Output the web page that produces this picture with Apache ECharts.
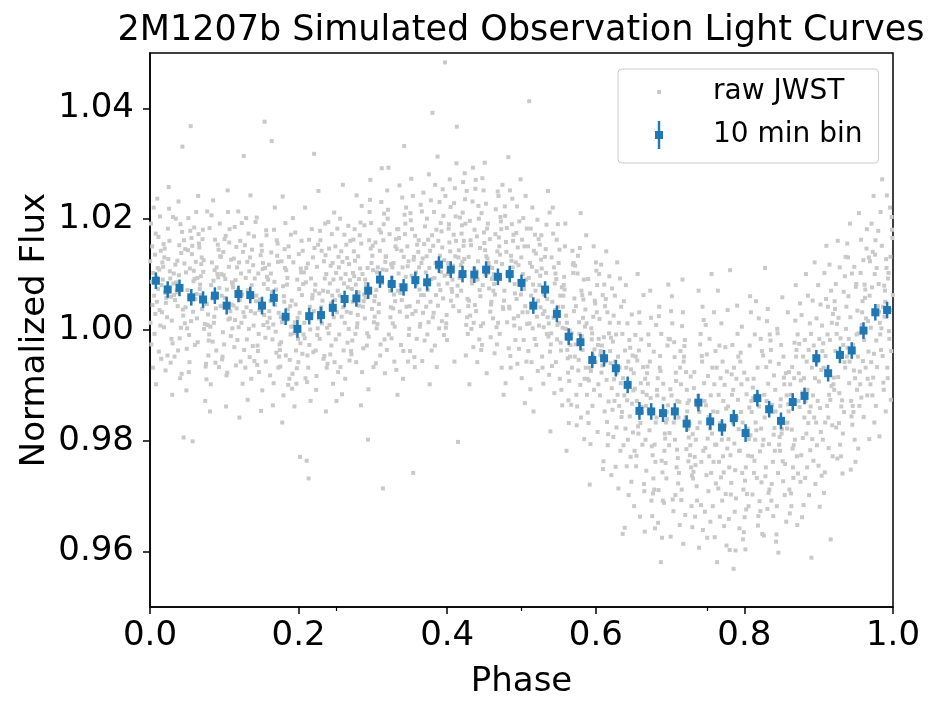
<!DOCTYPE html>
<html>
<head>
<meta charset="utf-8">
<title>2M1207b light curves</title>
<script src="https://cdn.jsdelivr.net/npm/echarts@6/dist/echarts.min.js"></script>
<style>
  html, body { margin: 0; padding: 0; background: #fff; }
  #main { width: 941px; height: 715px; }
</style>
</head>
<body>
<div id="main"></div>
<script>
// 10 min binned flux (blue points)
var binFlux = [
  1.0089, 1.0073, 1.0076, 1.0059, 1.0055, 1.0062, 1.0044, 1.0065, 1.0063, 1.0044,
  1.0058, 1.0024, 1.0002, 1.0025, 1.0027, 1.0040, 1.0056, 1.0057, 1.0071, 1.0091,
  1.0083, 1.0077, 1.0090, 1.0086, 1.0118, 1.0109, 1.0101, 1.0100, 1.0109, 1.0096,
  1.0101, 1.0085, 1.0044, 1.0073, 1.0029, 0.9988, 0.9978, 0.9946, 0.9949, 0.9931,
  0.9901, 0.9854, 0.9853, 0.9850, 0.9853, 0.9831, 0.9869, 0.9835, 0.9824, 0.9841,
  0.9814, 0.9877, 0.9857, 0.9836, 0.9870, 0.9881, 0.9949, 0.9922, 0.9955, 0.9963,
  0.9999, 1.0032, 1.0036
];
var binErr = [
  0.0015, 0.0015, 0.0015, 0.0015, 0.0015, 0.0015, 0.0016, 0.0015, 0.0015, 0.0016,
  0.0015, 0.0015, 0.0016, 0.0015, 0.0015, 0.0015, 0.0015, 0.0015, 0.0015, 0.0015,
  0.0015, 0.0015, 0.0015, 0.0015, 0.0015, 0.0015, 0.0015, 0.0015, 0.0015, 0.0015,
  0.0015, 0.0015, 0.0015, 0.0015, 0.0015, 0.0015, 0.0015, 0.0015, 0.0015, 0.0015,
  0.0015, 0.0016, 0.0015, 0.0016, 0.0015, 0.0015, 0.0016, 0.0015, 0.0015, 0.0015,
  0.0016, 0.0015, 0.0015, 0.0015, 0.0016, 0.0015, 0.0015, 0.0015, 0.0015, 0.0015,
  0.0015, 0.0015, 0.0015
];

// raw JWST flux as offset from 1 in parts per thousand, 30 samples per bin
var rawPpt = [
  12.4,1.3,19.2,-2.6,8.7,15.1,4.5,-6.8,10.3,22.1,6.2,-0.7,13.6,2.9,17.4,-9.8,9.5,5.1,23.7,11.2,7.4,16.8,-3.9,10.9,3.6,20.5,0.8,14.3,-5.2,8.1,
  3.2,14.7,-4.6,9.3,20.4,0.5,7.8,16.1,-11.7,11.4,4.9,25.8,-1.6,12.2,6.7,18.3,-5.9,8.4,13.1,2.3,10.6,-2.4,15.5,5.8,21.9,1.7,9.1,-7.3,12.8,6.0,
  10.2,-3.7,33.1,5.4,15.3,-19.4,8.6,19.1,1.2,12.5,-7.9,6.3,23.2,3.7,11.8,-1.5,16.2,7.1,0.4,14.6,4.3,17.7,-4.8,9.9,2.6,20.1,-8.7,12.0,6.8,13.9,
  4.1,36.8,12.3,-0.9,18.5,7.2,-20.1,10.4,1.6,21.3,-5.8,9.2,14.4,3.3,-10.9,16.6,6.5,11.1,-2.7,20.2,8.8,-3.4,13.7,2.1,17.9,5.6,-7.6,10.7,0.3,15.2,
  9.4,0.2,15.6,-6.6,6.3,21.4,3.8,-1.9,12.6,17.3,-12.8,8.2,4.7,13.1,-4.6,10.5,24.2,1.1,7.4,-8.9,11.9,2.8,18.1,-2.2,5.3,14.9,-6.1,9.7,0.9,16.4,
  -0.8,11.3,5.7,19.2,-5.9,8.1,14.5,2.4,-14.7,10.1,23.4,4.3,-3.7,12.2,7.6,16.3,-9.8,9.5,1.3,18.4,6.4,-2.1,13.3,3.9,20.7,-6.7,10.8,0.6,15.4,8.9,
  13.2,2.1,-7.7,16.4,6.2,-1.1,21.3,9.2,-4.8,4.6,11.4,-13.8,14.1,0.3,18.2,7.3,-2.6,10.1,3.4,25.2,5.8,-5.3,12.7,1.9,17.0,-0.4,8.6,15.8,-8.2,9.9,
  8.3,-3.6,31.4,3.2,14.1,-9.7,6.4,19.3,1.3,10.2,-5.7,16.1,5.4,-15.8,12.2,0.5,21.4,7.2,-1.8,11.3,3.9,15.0,-6.4,9.0,1.8,18.6,-3.1,12.9,4.4,7.7,
  2.4,15.3,-6.8,9.4,20.2,4.1,-1.7,12.3,-12.6,7.2,17.4,0.2,10.6,-4.9,13.1,24.3,3.4,-8.8,8.1,14.5,6.1,-2.9,11.7,0.8,16.9,-5.6,9.3,3.0,19.5,5.2,
  6.2,-7.6,14.3,37.6,1.4,10.2,-14.6,8.3,17.1,-2.8,4.4,12.1,-5.7,20.3,3.6,-10.9,11.2,7.4,-0.7,15.3,2.7,9.6,-3.8,13.5,0.9,18.0,-6.3,5.5,11.0,-1.4,
  9.1,-1.7,16.2,3.4,-9.6,12.3,5.2,22.1,-4.8,34.1,7.3,0.4,-13.6,13.4,2.2,18.1,-6.8,10.2,4.5,-2.6,6.9,-4.1,11.8,1.0,15.6,-8.2,8.7,3.1,14.0,-0.3,
  -3.6,11.2,4.3,-11.8,15.1,1.4,8.2,-6.6,19.3,-0.8,6.1,13.2,-16.7,9.4,2.3,-4.6,17.2,5.1,-8.8,24.1,3.7,-2.2,10.8,0.6,14.6,-5.4,7.9,-9.9,12.4,1.8,
  5.3,-5.8,12.2,-22.9,1.4,16.1,-9.7,8.3,-1.6,20.2,3.1,-13.8,10.4,-3.7,14.3,2.2,-7.9,7.4,-0.6,11.1,4.6,-4.3,9.1,-10.6,13.7,0.7,-2.4,17.6,6.3,-6.9,
  -0.8,9.3,-23.6,31.8,4.2,-8.7,13.1,-26.8,1.3,18.2,-4.6,7.1,-12.8,11.2,3.4,-2.7,22.1,6.3,-6.8,10.4,2.9,-9.4,14.8,0.1,8.6,-4.0,16.3,-1.5,5.7,12.0,
  8.2,-4.7,14.3,2.1,-10.8,19.2,5.3,-1.6,11.4,-14.7,7.1,16.2,0.3,-6.8,12.4,4.1,25.1,-3.7,9.3,1.2,6.6,-8.3,13.5,2.8,17.9,-0.9,10.1,-5.2,3.7,15.4,
  0.4,13.2,-7.6,7.1,18.3,3.2,-12.8,10.3,-1.7,15.1,5.4,-5.8,21.2,2.3,9.1,-9.7,12.1,6.2,17.3,-2.8,4.8,11.6,-4.4,8.4,0.9,14.7,-0.6,19.5,6.9,-6.1,
  11.3,-0.8,6.2,20.1,-6.7,9.3,14.2,2.4,-11.6,12.3,26.2,4.1,-3.7,8.4,17.2,1.3,-8.8,10.1,5.2,15.4,3.3,13.0,-2.3,7.7,18.8,0.2,11.9,-5.5,9.0,16.1,
  3.1,16.3,-5.8,9.2,22.4,5.1,-0.7,13.3,-13.6,7.4,18.2,1.2,11.1,-3.8,14.2,24.3,4.4,-7.6,10.3,8.2,6.8,15.6,-1.9,12.5,2.7,19.4,-4.4,9.7,0.5,17.1,
  10.1,-2.8,19.3,5.2,-19.8,13.4,2.1,16.2,-6.7,8.3,27.1,4.2,-0.6,12.1,6.4,-10.7,15.2,9.1,21.3,1.4,7.6,14.7,-3.3,11.2,3.8,18.9,-1.2,10.8,5.9,23.5,
  5.2,18.1,-1.7,11.3,-28.6,7.2,23.1,2.4,14.3,-7.8,9.1,16.2,0.3,29.2,6.1,-4.6,12.3,3.2,19.1,10.4,8.5,15.8,-2.6,13.2,4.7,21.0,1.1,10.9,-6.0,17.6,
  13.3,1.2,20.1,-5.7,8.2,16.4,4.1,-11.7,11.3,25.2,6.4,-0.8,15.1,2.3,18.2,9.4,-3.6,12.1,29.3,5.2,7.1,14.6,-1.5,10.8,3.9,21.7,0.6,17.3,-7.2,11.9,
  7.1,19.2,-2.7,12.4,33.2,3.3,15.1,-8.8,10.2,22.1,5.4,0.2,17.3,8.1,-5.7,13.2,26.1,2.4,11.3,18.2,9.6,14.3,-0.9,20.8,6.7,11.5,-3.8,16.6,4.2,23.9,
  4.3,16.2,10.4,-25.8,21.1,7.3,-1.6,13.2,27.3,1.1,9.4,-6.7,18.2,6.3,14.1,3.4,24.2,-3.8,11.3,8.2,12.7,19.8,0.6,15.4,-4.9,9.8,22.6,5.1,17.0,2.9,
  12.1,2.3,39.2,17.1,-3.7,9.2,23.4,5.1,14.3,-9.8,11.2,28.1,1.4,16.3,7.2,-0.8,20.1,13.3,4.2,10.4,8.6,18.7,-1.9,15.5,6.3,24.8,3.1,12.9,-5.6,21.4,
  15.2,3.1,21.3,9.4,-2.8,26.2,12.1,6.3,18.1,-6.7,11.2,31.3,4.4,16.1,8.2,0.3,23.1,13.4,7.2,19.3,10.5,17.8,1.6,14.9,25.4,5.7,20.6,-0.9,12.6,9.8,
  48.3,10.1,22.2,4.3,16.1,-1.8,27.2,9.1,13.3,1.2,19.1,7.4,-5.7,24.2,12.1,5.3,17.2,30.1,8.4,14.2,11.6,20.5,2.7,15.8,6.9,25.6,0.4,18.3,10.8,22.9,
  36.7,7.1,19.2,-20.2,12.3,25.1,3.4,15.2,-0.7,10.1,28.3,6.2,17.4,-4.6,13.1,21.2,2.3,9.4,16.1,4.3,11.7,23.6,8.0,18.9,0.9,14.4,26.7,5.6,20.3,12.8,
  13.2,1.3,20.1,8.4,-5.8,16.2,27.1,5.3,11.1,-1.7,23.2,9.1,15.3,3.4,-9.8,18.1,7.2,29.3,12.4,0.2,10.6,19.7,4.5,14.8,-3.1,22.4,8.9,16.9,2.6,25.5,
  6.1,18.3,-2.7,12.1,25.2,3.3,14.4,9.2,-7.8,21.1,10.3,1.2,16.4,30.2,5.1,13.3,-3.6,19.2,8.1,11.4,15.7,4.6,22.8,0.7,12.9,27.4,7.5,17.6,-1.3,10.0,
  11.2,-0.7,17.3,4.1,24.2,8.3,-6.8,14.2,2.1,20.4,12.3,-11.7,15.1,6.4,26.2,1.3,10.1,18.2,-2.6,9.4,13.6,21.8,3.8,16.7,-4.2,11.9,25.0,7.1,19.6,0.5,
  5.3,16.1,-4.7,10.2,22.3,2.1,13.4,31.2,-9.6,8.3,19.1,4.2,14.1,-1.8,11.3,25.2,1.4,7.1,17.2,-6.8,9.7,20.6,0.8,12.5,-3.3,15.9,6.6,23.7,3.9,18.4,
  12.2,1.1,18.3,-5.7,9.1,24.2,4.3,-13.2,15.1,7.4,-1.8,20.2,10.1,3.2,16.3,-8.7,13.1,6.4,27.2,0.3,8.8,19.6,-3.4,11.7,2.5,14.9,-6.1,22.3,5.6,17.5,
  3.2,15.1,-3.8,9.4,41.3,1.2,12.1,-10.7,18.3,6.2,-5.8,11.4,22.1,0.3,8.2,-14.7,14.3,4.1,-1.6,17.2,7.1,13.8,-2.7,10.6,2.4,19.9,-7.4,5.3,16.4,0.8,
  8.1,-4.8,13.2,2.3,-18.3,17.1,6.4,-0.7,21.2,4.1,-9.7,10.3,1.2,15.4,-6.8,7.3,25.1,-2.6,11.1,3.4,5.6,-3.9,12.7,0.5,19.0,-8.1,9.8,2.9,14.6,-1.2,
  -0.6,10.2,-8.8,5.1,16.3,-3.7,2.2,19.1,-13.6,8.4,1.3,13.1,-5.8,6.2,22.1,-1.7,-10.8,11.3,4.2,0.4,3.6,14.5,-6.5,9.2,-2.3,17.4,0.9,7.7,-11.4,12.1,
  4.2,-7.7,10.3,-21.8,-0.6,15.1,-4.8,6.2,-12.7,12.1,1.3,-6.8,19.2,-2.7,8.1,-16.8,3.4,-3.6,14.3,0.2,-1.4,9.6,-9.2,5.7,-5.1,11.8,2.6,-13.5,7.3,-0.1,
  -4.8,7.1,-11.7,2.2,13.4,-8.8,-0.7,17.1,-15.8,4.3,-3.6,10.2,-19.7,1.4,-6.8,21.1,-2.6,6.3,-13.8,9.1,-5.4,3.7,-9.9,11.6,-1.1,-17.2,5.5,-7.3,0.6,14.8,
  1.2,-10.8,-27.9,8.1,-4.6,-16.8,12.2,-1.7,-8.8,5.3,-20.6,-2.7,15.1,-6.8,3.2,-13.7,9.2,-5.8,0.3,-11.7,-3.5,6.6,-18.4,2.4,-9.1,10.7,-0.6,-14.9,4.8,-7.4,
  -9.8,3.2,-14.7,-2.8,10.1,-18.8,-5.7,6.3,-11.8,-0.6,14.2,-23.7,-3.8,1.3,-16.6,8.2,-7.7,-1.6,-20.8,4.3,-6.4,2.0,-12.9,5.6,-25.1,-4.5,9.7,-9.0,-1.3,11.8,
  -3.8,-15.7,4.2,-9.6,-21.8,9.3,-6.8,-13.7,1.3,-28.6,-4.8,-11.7,12.2,-7.8,-17.6,-0.8,-24.7,-5.7,6.2,-12.8,-8.9,2.6,-19.3,-2.1,-14.4,7.5,-10.5,-26.2,-1.4,-6.0,
  -14.8,-0.7,-36.8,-8.7,-20.8,5.2,-11.8,-35.7,-3.7,-17.8,8.1,-6.8,-24.6,-12.7,1.2,-19.8,-5.7,-29.8,-9.7,-1.8,-15.6,-3.2,-22.9,-7.1,-27.4,2.8,-13.3,-4.6,-18.5,-10.9,
  -7.8,-22.7,3.2,-14.8,-36.4,-4.8,-18.7,-1.7,-27.8,-10.6,10.1,-16.8,-6.7,-31.8,-12.8,1.3,-20.7,-8.8,-24.6,-3.7,-13.9,-29.1,-0.9,-17.4,-9.6,6.3,-21.8,-5.5,-33.7,-11.2,
  -19.8,-5.7,-28.8,-11.7,2.2,-23.8,-9.7,-33.6,-15.8,-2.7,-26.8,-13.7,7.1,-20.7,-7.8,-30.8,-16.7,-0.8,-22.6,-10.8,-18.1,-3.9,-25.4,-12.3,-35.8,-6.6,-21.0,0.9,-14.6,-29.5,
  -11.8,-25.7,-2.8,-41.9,-16.7,4.2,-21.8,-8.7,-30.8,-13.6,-0.7,-26.8,-6.8,-18.7,-34.8,-9.7,8.2,-23.6,-14.8,-4.7,-19.6,-28.9,-12.4,-1.6,-37.5,-16.1,-7.4,-24.0,2.5,-31.2,
  -20.8,-7.7,-37.3,-12.8,1.2,-25.8,-16.7,-3.8,-29.8,-10.7,-21.6,6.1,-15.8,-32.7,-6.8,-19.8,-1.7,-24.8,-11.8,-27.7,-14.3,-35.2,-4.9,-18.6,-9.2,3.4,-23.1,-30.6,-13.0,-2.2,
  -9.8,-23.7,-4.8,-31.8,-14.7,3.2,-20.8,-7.6,-28.8,-12.7,-1.8,-35.6,-17.8,-5.7,-24.8,-10.8,9.1,-22.6,-15.8,-30.7,-19.4,-2.9,-26.3,-13.2,-38.6,-8.4,-21.5,0.7,-16.9,-33.4,
  -18.8,-4.7,-39.3,-12.8,-25.6,4.2,-16.7,-30.8,-7.6,-21.8,-0.7,-13.8,-33.7,-9.6,-23.8,7.1,-19.8,-26.8,-5.7,-14.8,-28.2,-10.5,-36.1,-2.6,-17.7,-22.9,1.8,-31.6,-11.9,-24.4,
  -12.8,-27.7,-3.8,-20.7,-37.4,-9.8,3.2,-23.8,-14.7,-31.8,-6.8,-18.7,10.1,-25.8,-11.8,-34.6,-17.8,-1.6,-22.8,-15.7,-29.1,-8.3,-19.6,-37.5,-4.4,-26.2,-13.6,0.9,-21.3,-32.8,
  -20.7,-6.8,-41.9,-14.8,7.1,-28.6,-11.7,-23.8,-2.8,-33.7,-16.8,-8.7,-26.6,1.2,-19.8,-30.8,-5.7,-22.8,-12.8,-25.7,-35.4,-9.9,-17.3,-3.1,-29.6,-14.2,-38.9,-7.5,-21.4,3.6,
  -13.8,-29.7,-43.1,-8.8,-21.8,10.8,-16.7,-39.8,-4.8,-24.8,-11.7,-32.8,-0.7,-19.7,-27.6,-6.8,-15.8,-35.8,-22.6,-10.8,-30.4,-17.9,-39.7,-2.7,-25.3,-12.6,-34.1,-8.0,-20.5,4.4,
  -21.8,-7.7,-31.8,-14.8,-39.6,-2.8,-25.8,-11.6,3.2,-28.8,-17.8,-5.7,-33.8,-19.7,-9.8,-24.8,6.1,-16.7,-29.6,-12.8,-36.5,-22.7,-4.1,-27.2,-14.0,0.6,-32.4,-19.0,-37.8,-8.9,
  -14.8,-26.7,-3.8,-19.8,-32.7,-8.8,2.1,-22.8,-11.7,-36.8,-16.7,-1.6,-25.8,-13.8,-29.7,-6.8,-20.8,5.2,-17.8,-23.6,-30.9,-10.4,-35.3,-4.6,-18.1,-27.5,-0.8,-21.9,-12.3,-33.6,
  -19.8,-5.7,11.2,-27.8,-12.8,-33.6,-9.7,-21.8,-0.8,-15.8,-30.8,-6.7,-23.8,3.8,-17.7,-28.8,-11.7,-3.6,-24.8,-14.8,-32.3,-8.2,-20.6,-37.1,-1.9,-26.4,-13.5,1.6,-18.9,-29.4,
  -10.8,-23.7,-40.2,-7.8,-18.7,0.2,-29.8,-13.7,-38.2,-4.8,-20.7,-11.8,5.9,-25.8,-16.8,-2.7,-31.8,-9.8,-21.8,-14.7,-27.3,-6.1,-34.6,-17.9,-0.6,-24.2,-12.5,-36.9,-8.6,-19.3,
  -17.8,-4.8,-26.7,-11.7,3.2,-22.8,-8.7,-31.8,-14.7,-0.8,-19.8,-6.7,-28.8,-12.8,8.1,-24.8,-9.8,-16.7,-3.6,-20.8,-29.5,-13.4,-35.2,-2.3,-18.0,-7.6,-25.9,1.7,-21.4,-33.1,
  -7.8,-21.7,1.2,-14.8,-29.8,-3.6,-16.8,6.2,-10.8,-24.8,-5.7,-18.7,10.1,-12.8,-26.7,-1.8,-15.8,-8.7,-31.6,-4.8,-19.5,-11.3,-33.8,2.7,-22.6,-9.1,-27.4,4.8,-13.9,-2.5,
  -13.8,-0.7,-41.1,-6.8,-19.7,5.3,-11.8,-23.6,-2.8,-15.8,12.2,-8.7,-27.8,-4.8,-16.7,2.1,-20.8,-5.7,-12.8,8.1,-24.5,-9.3,-1.6,-31.9,-14.1,4.6,-18.4,-7.2,-26.3,0.8,
  -3.8,-16.7,4.2,-37.8,-9.8,10.3,-13.7,-1.8,-22.8,-6.8,15.2,-11.7,1.3,-19.8,-4.7,-15.8,7.1,-8.6,-25.7,-0.8,-12.6,2.9,-29.4,-7.0,11.8,-17.2,-2.4,5.6,-21.3,-10.1,
  -10.8,2.2,-18.7,-3.8,11.3,-14.8,-0.7,-22.8,-6.8,16.1,-12.7,5.2,-16.8,-2.7,8.3,-20.7,-5.8,1.1,-13.8,13.2,-8.5,-25.9,3.8,-11.4,6.9,-17.6,-1.5,9.7,-23.2,-4.3,
  0.2,-12.8,8.3,-5.7,-19.8,13.1,-2.7,4.2,-15.6,-0.8,19.2,-8.7,6.1,-14.8,-4.8,10.2,-10.8,2.3,-23.8,-1.6,-7.3,15.6,-17.1,3.5,-25.2,7.8,-9.6,11.4,-3.2,-13.7,
  -4.8,8.2,-13.7,2.1,16.3,-8.8,5.2,-19.7,-1.8,21.1,-6.8,10.3,-11.8,3.2,13.1,-15.7,-0.6,7.3,-9.8,18.2,0.9,-3.9,12.6,-21.4,5.8,-7.5,14.7,-12.2,1.6,-5.6,
  6.2,-6.7,14.1,-0.8,-13.7,19.2,3.3,10.1,-9.8,4.3,24.2,-3.6,11.2,-11.8,1.3,16.2,-5.8,8.3,-16.7,12.4,2.8,-8.6,21.3,-1.9,7.7,-19.2,13.6,0.4,17.9,-4.3,
  0.3,13.2,-8.7,7.1,27.2,-3.8,10.3,-14.7,4.2,18.1,-1.6,11.2,-10.8,6.3,22.1,-6.8,2.4,15.2,-12.6,9.3,5.1,-4.7,20.4,-0.2,12.8,-9.5,16.6,3.6,24.3,8.0
];

var xTicks = [0, 0.2, 0.4, 0.6, 0.8, 1.0];
var xMinorTicks = [0.25, 0.5, 0.75];
var yTicks = [0.96, 0.98, 1.00, 1.02, 1.04];

// samples in a bin come from different orbits, so they interleave in phase
var perBin = 30;
var orbitStride = [1, 7, 11, 13, 17, 19, 23, 29];
var nBins = binFlux.length;
var rawData = rawPpt.map(function (v, i) {
  var b = Math.floor(i / perBin), k = i % perBin;
  var slot = (k * orbitStride[b % orbitStride.length]) % perBin;
  return [(b + (slot + 0.5) / perBin) / nBins, 1 + v / 1000];
});
var binData = binFlux.map(function (v, i) { return [(i + 0.5) / nBins, v, binErr[i]]; });

var FONT = 'DejaVu Sans';
var BLUE = '#1f77b4';
var GRAY = '#c9c9c9';

var chart = echarts.init(document.getElementById('main'), null, { renderer: 'canvas' });

chart.setOption({
  backgroundColor: '#ffffff',
  animation: false,
  textStyle: { fontFamily: FONT },
  title: {
    text: '2M1207b Simulated Observation Light Curves',
    left: 516,
    top: 8,
    textAlign: 'center',
    textStyle: { fontFamily: FONT, fontSize: 35, fontWeight: 'normal', color: '#000' }
  },
  grid: {
    left: 150, top: 53, width: 743, height: 554,
    show: true, borderColor: '#000', borderWidth: 1.5, backgroundColor: 'transparent'
  },
  legend: {
    orient: 'vertical',
    left: 618, top: 69,
    padding: [9, 16, 14, 36],
    itemWidth: 10, itemHeight: 28, itemGap: 15,
    borderColor: '#cccccc', borderWidth: 1, borderRadius: 4,
    backgroundColor: 'rgba(255,255,255,0.8)',
    textStyle: { fontFamily: FONT, fontSize: 28, color: '#000', lineHeight: 28, padding: [0, 0, 0, 44] },
    data: [
      { name: 'raw JWST', icon: 'path://M0,0L0,0M3,12L7,12L7,16L3,16ZM10,28L10,28', itemStyle: { color: GRAY } },
      { name: '10 min bin', icon: 'path://M3.8,0L6.2,0L6.2,10L9,10L9,18L6.2,18L6.2,28L3.8,28L3.8,18L1,18L1,10L3.8,10ZM0,0L0,0M10,28L10,28', itemStyle: { color: BLUE } }
    ]
  },
  xAxis: [{
    type: 'value', min: 0, max: 1, interval: 0.2, position: 'bottom',
    name: 'Phase', nameLocation: 'middle', nameGap: 58,
    nameTextStyle: { fontFamily: FONT, fontSize: 34, color: '#000' },
    axisLine: { lineStyle: { color: '#000', width: 1.5 } },
    axisTick: { length: 7, lineStyle: { color: '#000', width: 1.5 }, customValues: xTicks },
    axisLabel: { fontFamily: FONT, fontSize: 34, color: '#000', margin: 12, customValues: xTicks,
      formatter: function (v) { return v.toFixed(1); } },
    splitLine: { show: false }
  }, {
    type: 'value', min: 0, max: 1, position: 'bottom', offset: 0,
    axisLine: { show: false },
    axisTick: { length: 4, lineStyle: { color: '#000', width: 1.2 }, customValues: xMinorTicks },
    axisLabel: { show: false },
    splitLine: { show: false }
  }],
  yAxis: {
    type: 'value', min: 0.95, max: 1.05,
    name: 'Normalized Flux', nameLocation: 'middle', nameGap: 98, nameMoveOverlap: false,
    nameTextStyle: { fontFamily: FONT, fontSize: 34, color: '#000' },
    axisLine: { show: true, lineStyle: { color: '#000', width: 1.5 } },
    axisTick: { show: true, length: 7, lineStyle: { color: '#000', width: 1.5 }, customValues: yTicks },
    axisLabel: { fontFamily: FONT, fontSize: 34, color: '#000', margin: 16, customValues: yTicks,
      formatter: function (v) { return v.toFixed(2); } },
    splitLine: { show: false }
  },
  series: [{
    name: 'raw JWST',
    type: 'scatter',
    xAxisIndex: 0,
    symbol: 'rect',
    symbolSize: 4,
    itemStyle: { color: GRAY, opacity: 1 },
    data: rawData,
    z: 1
  }, {
    name: '10 min bin',
    type: 'custom',
    xAxisIndex: 0,
    itemStyle: { color: BLUE },
    z: 3,
    data: binData,
    encode: { x: 0, y: 1 },
    renderItem: function (params, api) {
      var x = api.value(0), y = api.value(1), e = api.value(2);
      var c = api.coord([x, y]);
      var hi = api.coord([x, y + e]);
      var lo = api.coord([x, y - e]);
      return {
        type: 'group',
        children: [{
          type: 'line',
          shape: { x1: c[0], y1: hi[1], x2: c[0], y2: lo[1] },
          style: { stroke: BLUE, lineWidth: 2.5 }
        }, {
          type: 'rect',
          shape: { x: c[0] - 4, y: c[1] - 4, width: 8, height: 8 },
          style: { fill: BLUE }
        }]
      };
    }
  }]
});
</script>
</body>
</html>
